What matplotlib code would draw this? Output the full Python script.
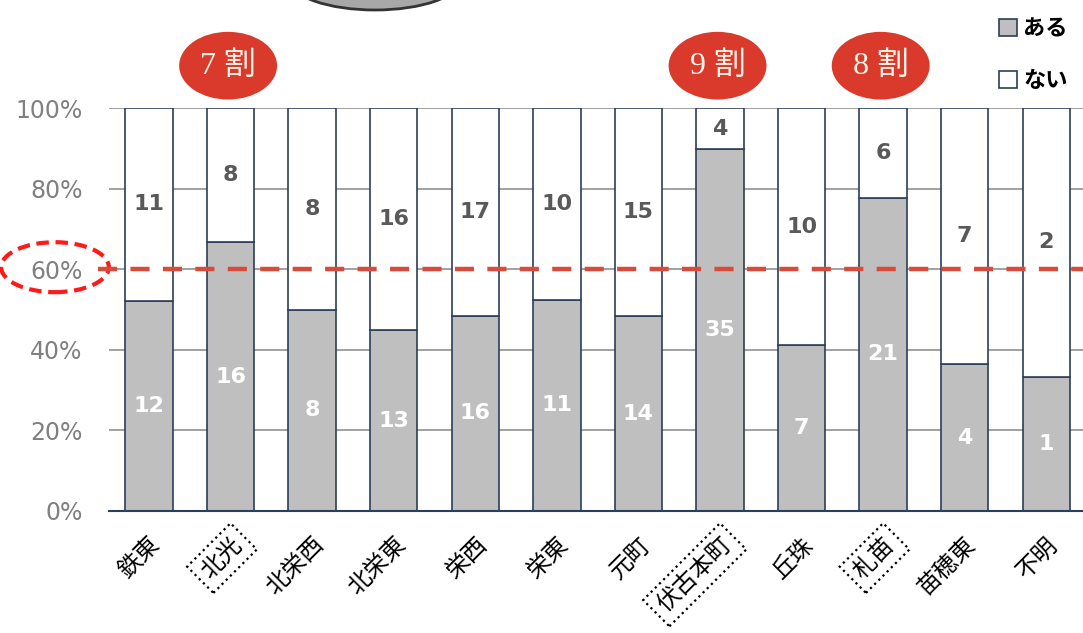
import numpy as np
import matplotlib.pyplot as plt
from matplotlib.patches import Ellipse

plt.rcParams['font.family'] = ['DejaVu Sans', 'Noto Sans CJK JP']

# districts and answer counts
areas = ['鉄東', '北光', '北栄西', '北栄東', '栄西', '栄東', '元町', '伏古本町', '丘珠', '札苗', '苗穂東', '不明']
aru = np.array([12, 16, 8, 13, 16, 11, 14, 35, 7, 21, 4, 1])
nai = np.array([11, 8, 8, 16, 17, 10, 15, 4, 10, 6, 7, 2])
yticks = [0, 20, 40, 60, 80, 100]
highlight = {1: '7 割', 7: '9 割', 9: '8 割'}

total = aru + nai
p_aru = aru / total * 100
p_nai = nai / total * 100
x = np.arange(len(areas))

fig = plt.figure(figsize=(10.83, 6.33), dpi=100)
ax = fig.add_axes([109 / 1083, 1 - 511 / 633, 1 - 109 / 1083, 403 / 633])

edge = '#2c3e5a'
b1 = ax.bar(x, p_aru, 0.58, color='#bfbfbf', edgecolor=edge, lw=1.2, label='ある', zorder=2)
b2 = ax.bar(x, p_nai, 0.58, bottom=p_aru, color='white', edgecolor=edge, lw=1.2, label='ない', zorder=2)

for i in range(len(areas)):
    ax.text(x[i], p_aru[i] / 2, str(aru[i]), ha='center', va='center',
            color='white', fontsize=16, fontweight='bold', zorder=3)
    ax.text(x[i], p_aru[i] + p_nai[i] / 2, str(nai[i]), ha='center', va='center',
            color='#595959', fontsize=16, fontweight='bold', zorder=3)

ax.set_xlim(-0.49, 11.45)
ax.set_ylim(0, 100)
ax.set_yticks(yticks)
ax.set_yticklabels([f'{v}%' for v in yticks], color='#808080', fontsize=17)
ax.yaxis.grid(True, color='#9a9a9a', lw=1.3, zorder=0)
ax.set_axisbelow(True)
for s in ['left', 'right', 'top']:
    ax.spines[s].set_visible(False)
ax.spines['bottom'].set_color(edge)
ax.spines['bottom'].set_linewidth(1.5)
ax.tick_params(length=0, axis='y', pad=19)
ax.tick_params(length=0, axis='x', pad=16)

ax.set_xticks(x)
ax.set_xticklabels(areas, rotation=45, ha='right', rotation_mode='anchor',
                   fontsize=17, family=['Noto Sans CJK JP'])
for i, lab in enumerate(ax.get_xticklabels()):
    if i in highlight:
        lab.set_bbox(dict(boxstyle='square,pad=0.3', fc='none', ec='black', ls=':', lw=1.6))

# 60% reference line and circled tick label
ax.plot([-0.63, 11.45], [60, 60], color='#d84a3a', lw=3.2,
        linestyle=(0, (4.3, 3.0)), clip_on=False, zorder=4)
ax.add_patch(Ellipse((-1.152, 60.5), 1.32, 12.4, fill=False, ec='#ff1a1a', lw=3,
                     ls=(0, (3, 1.6)), clip_on=False))

# red badges above the highlighted districts
for i, txt in highlight.items():
    ax.add_patch(Ellipse((i - 0.03, 110.5), 1.2, 16.8, fc='#d93a2b', ec='none',
                         clip_on=False, zorder=5))
    ax.text(i - 0.03, 110.5, txt, ha='center', va='center', color='#fff6ea',
            fontsize=23, family=['Liberation Serif', 'Noto Sans CJK JP'], zorder=6)

# partial shape cut off at the top edge
fig.patches.append(Ellipse((375 / 1083, 1 + 20 / 633), 170 / 1083, 60 / 633,
                           transform=fig.transFigure, fc='#a8a8a8', ec='#333333',
                           lw=2, figure=fig))

leg = ax.legend(handles=[b1, b2], loc='upper right', bbox_to_anchor=(1.005, 1.275),
                frameon=False, handlelength=0.8, handleheight=0.8, handletextpad=0.3,
                labelspacing=1.3, prop={'family': ['Noto Sans CJK JP'], 'weight': 'bold', 'size': 16})

fig.savefig('out.png', dpi=100)
